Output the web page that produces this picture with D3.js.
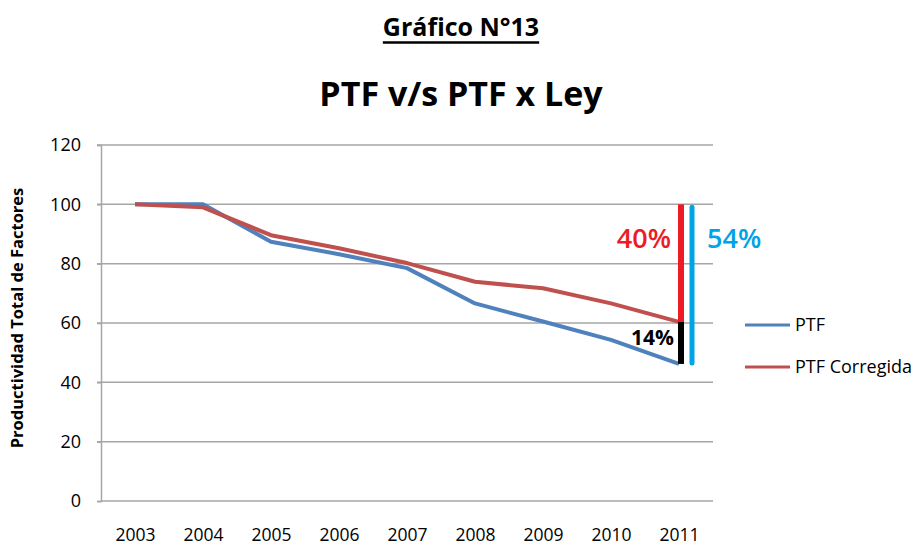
<!DOCTYPE html>
<html><head><meta charset="utf-8">
<script src="https://cdn.jsdelivr.net/npm/d3@7"></script>
<style>body{margin:0;background:#fff}svg{display:block}</style>
</head><body><svg id="c" width="923" height="547"></svg>
<script>
const years = ["2003","2004","2005","2006","2007","2008","2009","2010","2011"];
const ptf = [100, 100, 87.4, 83.2, 78.5, 66.6, 60.5, 54.3, 46.2];
const ptfCorregida = [100, 99.0, 89.6, 85.2, 80.2, 73.9, 71.7, 66.6, 60.4];
const yTicks = [0, 20, 40, 60, 80, 100, 120];
const seriesNames = ["PTF", "PTF Corregida"];
const gapLabels = ["40%", "54%", "14%"];

const font = "'Open Sans', 'Noto Sans', sans-serif";
const svg = d3.select("#c");
const pLeft = 101, pRight = 713, pTop = 145, pBottom = 501;

const x = d3.scalePoint().domain(years).range([pLeft, pRight]).padding(0.5);
const y = d3.scaleLinear().domain([0, 120]).range([pBottom, pTop]);

// titles
const t1 = svg.append("text").attr("x", 461).attr("y", 36).attr("text-anchor", "middle")
  .attr("font-family", font).attr("font-weight", "bold").attr("font-size", 25)
  .attr("fill", "#000").text("Gráfico N°13");
const bb = t1.node().getBBox();
svg.append("line").attr("x1", bb.x).attr("x2", bb.x + bb.width).attr("y1", 42.5).attr("y2", 42.5)
  .attr("stroke", "#000").attr("stroke-width", 2.5);
svg.append("text").attr("x", 461).attr("y", 106).attr("text-anchor", "middle")
  .attr("font-family", font).attr("font-weight", "bold").attr("font-size", 34)
  .attr("fill", "#000").text("PTF v/s PTF x Ley");

// gridlines
svg.append("g").selectAll("line").data(yTicks.filter(d => d > 0)).join("line")
  .attr("x1", pLeft - 4).attr("x2", pRight).attr("y1", d => y(d)).attr("y2", d => y(d))
  .attr("stroke", "#a6a6a6").attr("stroke-width", 1.5);

// y axis
const ya = svg.append("g").attr("transform", `translate(${pLeft},0)`)
  .call(d3.axisLeft(y).tickValues(yTicks).tickSize(4).tickPadding(16));
ya.select(".domain").attr("stroke", "#a6a6a6").attr("stroke-width", 1.5);
ya.selectAll(".tick line").attr("stroke", "#a6a6a6").attr("stroke-width", 1.5);
ya.selectAll("text").attr("font-family", font).attr("font-size", 18).attr("fill", "#000");

// x axis
const xa = svg.append("g").attr("transform", `translate(0,${pBottom})`)
  .call(d3.axisBottom(x).tickSize(0).tickPadding(28));
xa.select(".domain").attr("stroke", "#a6a6a6").attr("stroke-width", 1.5).attr("d", `M${pLeft},0H${pRight}`);
xa.selectAll("text").attr("font-family", font).attr("font-size", 17.5).attr("fill", "#000");

// y title
svg.append("text").attr("transform", "translate(23,318) rotate(-90)").attr("text-anchor", "middle")
  .attr("font-family", font).attr("font-weight", "bold").attr("font-size", 16.5).attr("fill", "#000")
  .text("Productividad Total de Factores");

// lines
const line = d3.line().x((d, i) => x(years[i])).y(d => y(d));
svg.append("path").datum(ptf).attr("d", line).attr("fill", "none")
  .attr("stroke", "#4f81bd").attr("stroke-width", 4).attr("stroke-linejoin", "round");
svg.append("path").datum(ptfCorregida).attr("d", line).attr("fill", "none")
  .attr("stroke", "#c0504d").attr("stroke-width", 4).attr("stroke-linejoin", "round");

// annotation bars
const last = years.length - 1;
const xl = x(years[last]);
svg.append("line").attr("x1", xl + 2).attr("x2", xl + 2).attr("y1", y(100)).attr("y2", y(ptfCorregida[last]))
  .attr("stroke", "#ed1c24").attr("stroke-width", 6);
svg.append("line").attr("x1", xl + 2).attr("x2", xl + 2).attr("y1", y(ptfCorregida[last])).attr("y2", y(ptf[last]))
  .attr("stroke", "#000").attr("stroke-width", 6);
svg.append("line").attr("x1", xl + 13).attr("x2", xl + 13).attr("y1", y(99)).attr("y2", y(ptf[last]) - 1)
  .attr("stroke", "#00a2e8").attr("stroke-width", 5).attr("stroke-linecap", "round");

svg.append("text").attr("x", xl - 8).attr("y", 248).attr("text-anchor", "end")
  .attr("font-family", font).attr("font-weight", "600").attr("font-size", 27).attr("fill", "#ed1c24").text(gapLabels[0]);
svg.append("text").attr("x", xl + 28).attr("y", 248).attr("text-anchor", "start")
  .attr("font-family", font).attr("font-weight", "600").attr("font-size", 27).attr("fill", "#00a2e8").text(gapLabels[1]);
svg.append("text").attr("x", xl - 5).attr("y", 345).attr("text-anchor", "end")
  .attr("font-family", font).attr("font-weight", "bold").attr("font-size", 21).attr("fill", "#000").text(gapLabels[2]);

// legend
const lg = svg.append("g");
const lcolors = ["#4f81bd", "#c0504d"];
seriesNames.forEach((n, i) => {
  const ly = 325 + i * 42;
  lg.append("line").attr("x1", 745).attr("x2", 790).attr("y1", ly).attr("y2", ly)
    .attr("stroke", lcolors[i]).attr("stroke-width", 3);
  lg.append("text").attr("x", 795).attr("y", ly + 6).attr("font-family", font).attr("font-size", 18)
    .attr("fill", "#000").text(n);
});
</script></body></html>
